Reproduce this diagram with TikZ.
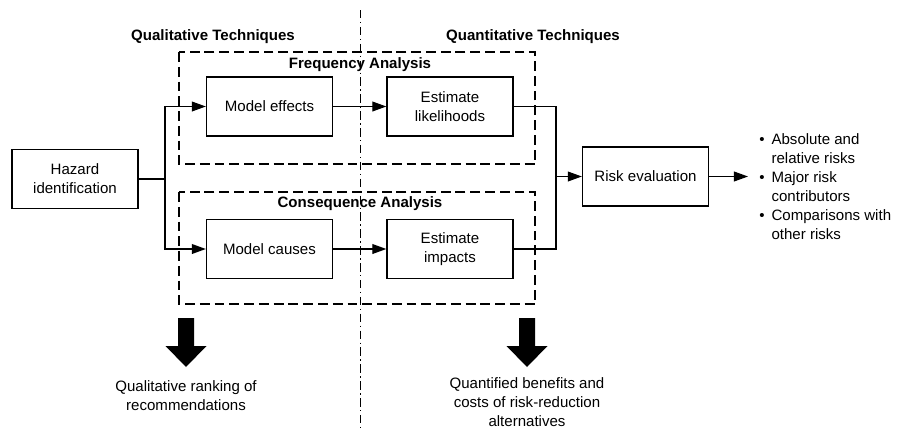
\documentclass[tikz,border=0pt]{standalone}
\usepackage{fontspec}
\setmainfont{Liberation Sans}
\usetikzlibrary{arrows.meta}

\begin{document}
\begin{tikzpicture}[x=0.025cm, y=-0.025cm, font=\fontsize{10.7}{13.5}\selectfont,
	box/.style={draw, line width=0.9pt, minimum width=3.15cm, minimum height=1.475cm, align=center, inner sep=2pt},
	link/.style={line width=0.9pt},
	arr/.style={line width=0.9pt, -{Triangle[length=10pt,width=7pt]}},
	dashbox/.style={line width=0.9pt, dash pattern=on 7pt off 3.5pt},
	divider/.style={line width=0.7pt, dash pattern=on 6pt off 2.5pt on 1pt off 2.5pt},
	heading/.style={font=\fontsize{10.7}{13.5}\selectfont\bfseries},
	caption/.style={align=center, inner sep=0pt}]
			%%%%% START %%%%%
			
			\useasboundingbox (0, 0) rectangle (897, 428);
			
			\draw[divider] (360, 10) -- (360, 428);
			
			\node[heading] (qualhead) at (213, 37) {Qualitative Techniques};
			\node[heading] (quanthead) at (533, 37) {Quantitative Techniques};
			
			\draw[dashbox] (179, 52) rectangle (535, 164);
			\node[heading] (freqhead) at (360, 65) {Frequency Analysis};
			\draw[dashbox] (179, 192) rectangle (535, 304);
			\node[heading] (conshead) at (360, 204) {Consequence Analysis};
			
			\node[box] (hazard) at (75, 179) {Hazard\\identification};
			\node[box] (effects) at (269.5, 106.5) {Model effects};
			\node[box] (likelihoods) at (450, 106.5) {Estimate\\likelihoods};
			\node[box] (causes) at (269.5, 249) {Model causes};
			\node[box] (impacts) at (450, 249) {Estimate\\impacts};
			\node[box] (riskeval) at (645.5, 176.5) {Risk evaluation};
			
			\coordinate (split) at (165, 179);
			\coordinate (join) at (556, 176.5);
			\coordinate (out) at (748, 176.5);
			
			\draw[link] (hazard) -- (split);
			\draw[arr] (split) |- (effects);
			\draw[arr] (split) |- (causes);
			\draw[arr] (effects) -- (likelihoods);
			\draw[arr] (causes) -- (impacts);
			\draw[link] (likelihoods) -| (join);
			\draw[link] (impacts) -| (join);
			\draw[arr] (join) -- (riskeval);
			\draw[arr] (riskeval) -- (out);
			
			\node[anchor=north west, inner sep=0pt] (results) at (759, 131) {%
				\begin{tabular}{@{}l@{\hspace{5pt}}l@{}}
					\textbullet & Absolute and\\
					& relative risks\\
					\textbullet & Major risk\\
					& contributors\\
					\textbullet & Comparisons with\\
					& other risks
				\end{tabular}};
			
			\foreach \x in {186, 527}
				\fill (\x-8, 318) -- (\x+8, 318) -- (\x+8, 346) -- (\x+20.5, 346)
					-- (\x, 367) -- (\x-20.5, 346) -- (\x-8, 346) -- cycle;
			
			\node[caption] (ranking) at (186, 396) {Qualitative ranking of\\recommendations};
			\node[caption] (benefits) at (527, 402) {Quantified benefits and\\costs of risk-reduction\\alternatives};
			
			%%%%% END %%%%%
\end{tikzpicture}
\end{document}
